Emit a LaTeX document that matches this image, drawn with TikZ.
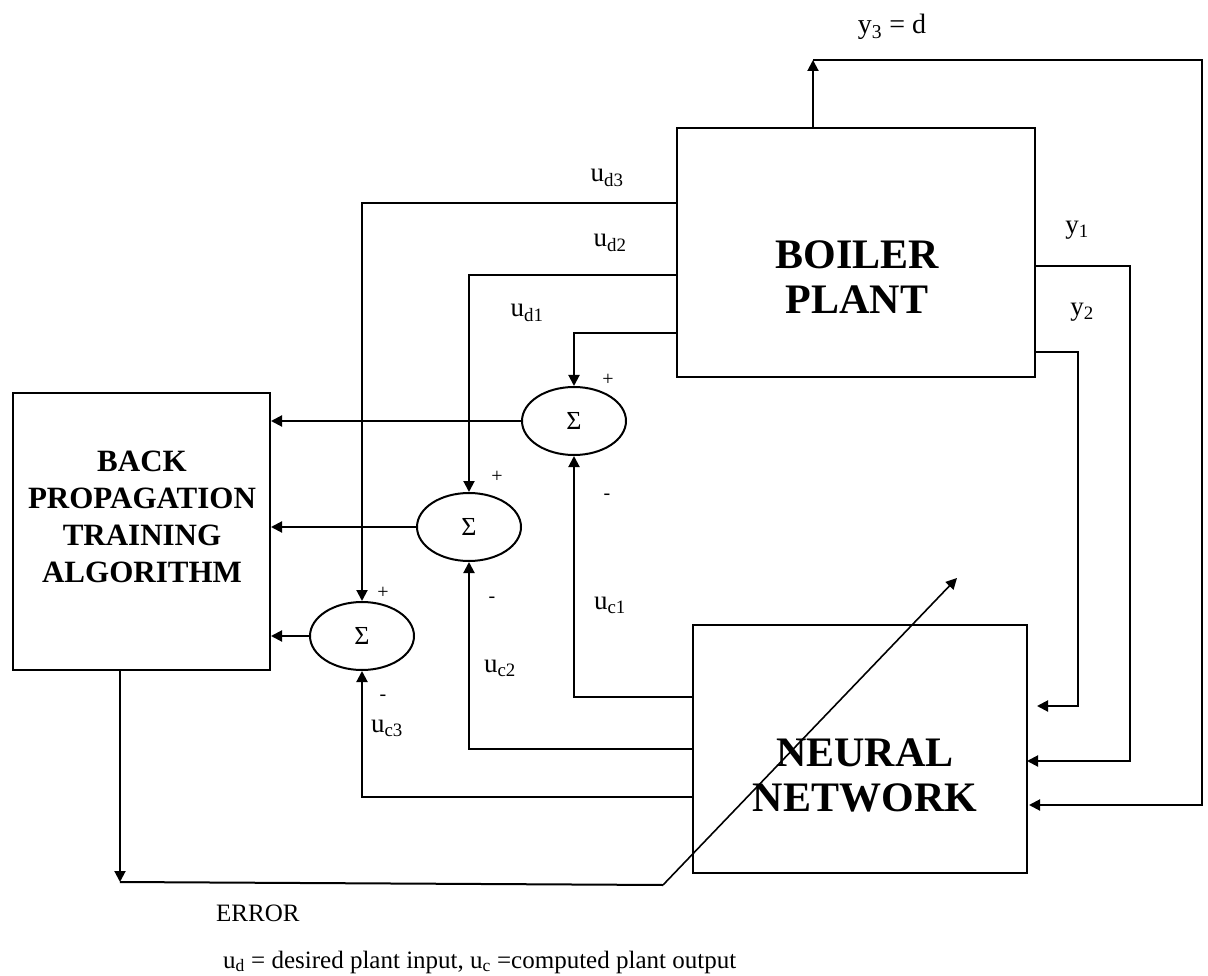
\documentclass[tikz,border=0pt]{standalone}
\usepackage{fontspec}
\setmainfont{Liberation Serif}
\usetikzlibrary{arrows.meta,positioning,shapes.geometric}

\begin{document}
\begin{tikzpicture}[
        x=1pt, y=-1pt,
        blockbox/.style={draw, line width=2pt, inner sep=0pt},
        sumnode/.style={
          draw, ellipse,
          line width=2pt,
          minimum width=104pt,
          minimum height=68pt,
          inner sep=0pt,
          font=\fontsize{26}{30}\selectfont
        },
        bigtext/.style={align=center, font=\fontsize{42}{45}\selectfont\bfseries},
        bptext/.style={align=center, font=\fontsize{31}{37}\selectfont\bfseries},
        sig/.style={inner sep=0pt, font=\fontsize{27}{30}\selectfont},
        note/.style={inner sep=0pt, font=\fontsize{25}{30}\selectfont},
        pm/.style={inner sep=0pt, font=\fontsize{20}{22}\selectfont},
        wire/.style={line width=2pt},
        arrow/.style={-{Triangle[length=11pt, width=11pt]}, line width=2pt}
      ]
        \useasboundingbox (0,0) rectangle (1208,976);

        \node[blockbox, minimum width=358pt, minimum height=249pt] (boiler) at (856,252.5) {};
        \node[bigtext] (boilertext) at (857,277) {BOILER\\PLANT};
        \node[blockbox, minimum width=334pt, minimum height=248pt] (nn) at (860,749) {};
        \node[bigtext] (nntext) at (865,775) {NEURAL\\NETWORK};
        \node[blockbox, minimum width=257pt, minimum height=277pt] (bp) at (141.5,531.5) {};
        \node[bptext] (bptext) at (142,517) {BACK\\PROPAGATION\\TRAINING\\ALGORITHM};

        \node[sumnode] (sum1) at (574,421) {Σ};
        \node[sumnode] (sum2) at (469,527) {Σ};
        \node[sumnode] (sum3) at (362,636) {Σ};

        \coordinate (ud1) at (677,333);
        \coordinate (ud2) at (677,275);
        \coordinate (ud3) at (677,203);
        \coordinate (uc1) at (693,697);
        \coordinate (uc2) at (693,749);
        \coordinate (uc3) at (693,797);
        \coordinate (y1o) at (1035,266);
        \coordinate (y2o) at (1035,352);
        \coordinate (y3o) at (813,128);
        \coordinate (y3t) at (813,60);
        \coordinate (y1i) at (1027,761);
        \coordinate (y2i) at (1037,706);
        \coordinate (y3i) at (1029,805);
        \coordinate (errc) at (120,882);
        \coordinate (errd) at (663,885);
        \coordinate (errtip) at (957,578);

        \draw[arrow] (ud1) -| (sum1.north);
        \draw[arrow] (ud2) -| (sum2.north);
        \draw[arrow] (ud3) -| (sum3.north);
        \draw[arrow] (uc1) -| (sum1.south);
        \draw[arrow] (uc2) -| (sum2.south);
        \draw[arrow] (uc3) -| (sum3.south);
        \draw[arrow] (sum1.west) -- (sum1.west -| bp.east);
        \draw[arrow] (sum2.west) -- (sum2.west -| bp.east);
        \draw[arrow] (sum3.west) -- (sum3.west -| bp.east);

        \draw[arrow] (y3o) -- (y3t);
        \draw[arrow] (y3t) -- ++(389,0) |- (y3i);
        \draw[arrow] (y1o) -- ++(95,0) |- (y1i);
        \draw[arrow] (y2o) -- ++(43,0) |- (y2i);

        \draw[arrow] (bp.south -| errc) -- (errc);
        \draw[wire] (errc) -- (errd);
        \draw[arrow, line width=1.6pt] (errd) -- (errtip);

        \node[sig, font=\fontsize{28}{30}\selectfont] (y3lab) at (892,27) {y\textsubscript{3} = d};
        \node[sig] (y1lab) at (1077,230) {y\textsubscript{1}};
        \node[sig] (y2lab) at (1082,312) {y\textsubscript{2}};
        \node[sig] (ud3lab) at (607,178) {u\textsubscript{d3}};
        \node[sig] (ud2lab) at (610,243) {u\textsubscript{d2}};
        \node[sig] (ud1lab) at (527,313) {u\textsubscript{d1}};
        \node[sig] (uc1lab) at (610,605) {u\textsubscript{c1}};
        \node[sig] (uc2lab) at (500,668) {u\textsubscript{c2}};
        \node[sig] (uc3lab) at (387,728) {u\textsubscript{c3}};

        \node[pm] (plus1) at (608,380) {+};
        \node[pm] (plus2) at (497,477) {+};
        \node[pm] (plus3) at (383,593) {+};
        \node[pm] (minus1) at (607,497) {-};
        \node[pm] (minus2) at (492,600) {-};
        \node[pm] (minus3) at (383,698) {-};

        \node[note, anchor=west] (errlab) at (216,913) {ERROR};
        \node[note, anchor=west] (footnote) at (223,962) {u\textsubscript{d} = desired plant input, u\textsubscript{c} =computed plant output};
      \end{tikzpicture}
\end{document}
